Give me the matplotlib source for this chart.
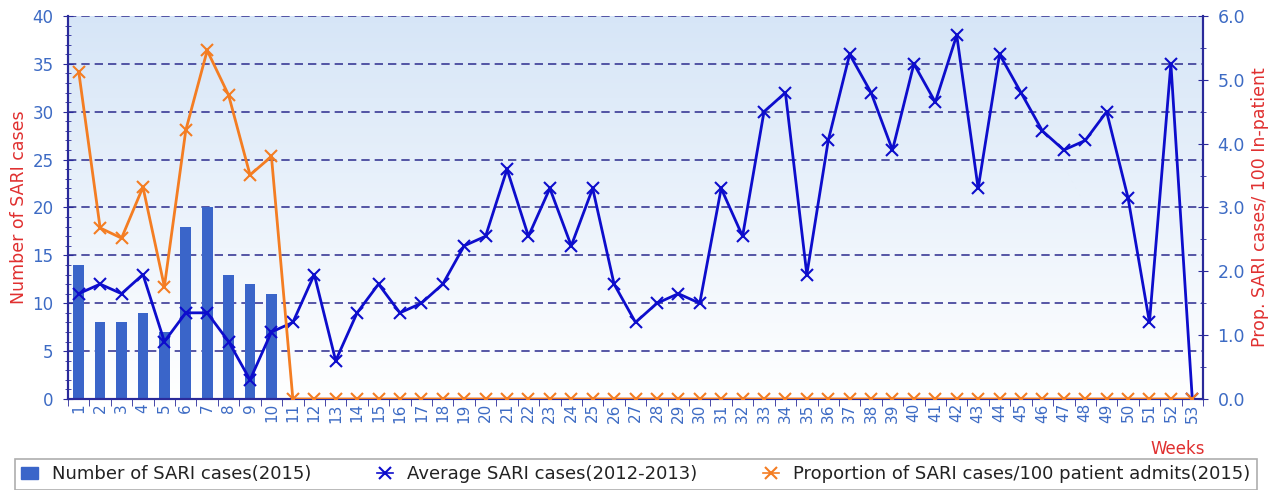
import matplotlib
matplotlib.use("Agg")
import matplotlib.pyplot as plt
import numpy as np
from matplotlib.lines import Line2D
from matplotlib.patches import Patch

weeks = list(range(1, 54))
sari_2015 = [14, 8, 8, 9, 7, 18, 20, 13, 12, 11]
avg_2012_2013 = [11, 12, 11, 13, 6, 9, 9, 6, 2, 7,
                 8, 13, 4, 9, 12, 9, 10, 12, 16, 17,
                 24, 17, 22, 16, 22, 12, 8, 10, 11, 10,
                 22, 17, 30, 32, 13, 27, 36, 32, 26, 35,
                 31, 38, 22, 36, 32, 28, 26, 27, 30, 21,
                 8, 35, 0]
prop_2015 = [5.13, 2.68, 2.52, 3.32, 1.76, 4.21, 5.46, 4.76, 3.51, 3.80] + [0.0] * 43

blue_tick = "#3d6bc4"
spine_c = "#2a2a9a"
red = "#e03030"
bar_c = "#3a65c9"
line_c = "#0d0dcc"
orange = "#f47d22"

fig = plt.figure(figsize=(12.74, 4.9), dpi=100)
ax = fig.add_axes([68/1274, 1-399/490, (1203-68)/1274, (399-16)/490])

# gradient background
grad = np.linspace(1, 0, 256).reshape(-1, 1)
top = np.array([0.84, 0.90, 0.97])
bot = np.array([1.0, 1.0, 1.0])
img = bot + (top - bot) * grad[..., None]
img = img.reshape(256, 1, 3)
ax.imshow(img, extent=[0, 1, 0, 1], transform=ax.transAxes, aspect="auto", zorder=0)

ax.bar(weeks[:len(sari_2015)], sari_2015, width=0.5, color=bar_c, zorder=2)
ax.plot(weeks, avg_2012_2013, color=line_c, lw=2, marker="x", ms=9, mew=1.5, zorder=3)

ax.set_xlim(0.5, 53.5)
ax.set_ylim(0, 40)
ax.set_yticks(range(0, 41, 5))
ax.set_yticks(range(0, 41, 1), minor=True)
for v in range(5, 41, 5):
    ax.axhline(v, color="#3a3a96", lw=1.2, ls=(0, (5, 3)), zorder=1)

ax.set_xticks(weeks)
ax.set_xticklabels([str(w) for w in weeks], rotation=90, color=blue_tick, fontsize=11)
ax.set_xticks(np.arange(0.5, 54, 1), minor=True)
ax.tick_params(axis="x", which="major", length=0, pad=3)
ax.tick_params(axis="x", which="minor", length=5, color=spine_c, direction="out")
ax.tick_params(axis="y", which="major", length=7, color=spine_c, direction="inout",
               labelcolor=blue_tick, labelsize=12, pad=7)
ax.tick_params(axis="y", which="minor", length=4, color=spine_c, direction="inout")

for s in ["left", "bottom", "right"]:
    ax.spines[s].set_color(spine_c)
    ax.spines[s].set_linewidth(1.5)
ax.spines["top"].set_visible(False)

ax.set_ylabel("Number of SARI cases", color=red, fontsize=12.5, labelpad=3)

ax2 = ax.twinx()
ax2.plot(weeks, prop_2015, color=orange, lw=2, marker="x", ms=9, mew=1.5, zorder=4)
ax2.set_ylim(0, 6)
ax2.set_yticks(np.arange(0, 6.1, 1))
ax2.set_yticklabels([f"{v:.1f}" for v in np.arange(0, 6.1, 1)])
ax2.set_yticks(np.arange(0, 6.1, 0.5), minor=True)
ax2.tick_params(axis="y", which="major", length=7, color=spine_c, direction="inout",
                labelcolor=blue_tick, labelsize=12.5, pad=7)
ax2.tick_params(axis="y", which="minor", length=4, color=spine_c, direction="inout")
for s in ["left", "bottom", "right"]:
    ax2.spines[s].set_color(spine_c)
    ax2.spines[s].set_linewidth(1.5)
ax2.spines["top"].set_visible(False)
ax2.set_ylabel("Prop. SARI cases/ 100 In-patient", color=red, fontsize=12.5, labelpad=4)

fig.text(1205/1274, 1-449/490, "Weeks", color=red, fontsize=12, ha="right", va="center")

handles = [
    Patch(facecolor=bar_c, edgecolor=bar_c),
    Line2D([], [], color=line_c, marker="x", ms=9, mew=1.5, lw=1.2),
    Line2D([], [], color=orange, marker="x", ms=9, mew=1.5, lw=1.2),
]
labels = ["Number of SARI cases(2015)", "Average SARI cases(2012-2013)",
          "Proportion of SARI cases/100 patient admits(2015)"]
leg = fig.legend(handles, labels, loc="upper left", ncol=3,
                 bbox_to_anchor=(15/1274, 1-459/490, 1242/1274, 0.0), mode="expand",
                 fontsize=13, frameon=True, fancybox=False, handlelength=0.9,
                 handletextpad=0.8, borderpad=0.35, borderaxespad=0.0, columnspacing=1.0)
leg.get_frame().set_edgecolor("#999999")
leg.get_frame().set_linewidth(1.2)
for t in leg.get_texts():
    t.set_color("#222222")

fig.savefig("out.png", dpi=100)
